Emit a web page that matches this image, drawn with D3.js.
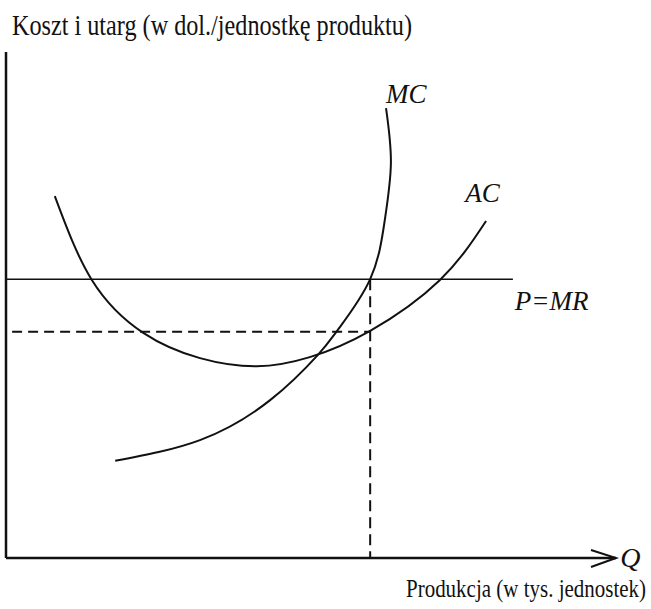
<!DOCTYPE html>
<html>
<head>
<meta charset="utf-8">
<script src="https://cdn.jsdelivr.net/npm/d3@7"></script>
<style>
  body { margin: 0; background: #fff; }
  text { font-family: "Liberation Serif", "Times New Roman", serif; fill: #111; }
</style>
</head>
<body>
<div id="chart"></div>
<script>
// curve points, in axis units (0..10 on both axes)
const acX = [0.80, 1.41, 2.25, 3.18, 4.11, 4.98, 5.97, 7.11, 7.87];
const acY = [7.15, 5.49, 4.45, 3.95, 3.79, 3.97, 4.49, 5.49, 6.66];
const mcX = [1.79, 3.18, 4.33, 5.11, 5.44, 5.97, 6.21, 6.31, 6.23];
const mcY = [1.92, 2.33, 3.12, 4.01, 4.51, 5.51, 6.68, 7.81, 8.89];
const priceLevel = 5.51;   // P = MR
const acAtQ = 4.47;        // AC at chosen output
const qStar = 5.97;        // output where P = MC
const priceEnd = 8.31;

const labels = [
  { text: "MC", x: 6.23, y: 8.99 },
  { text: "AC", x: 7.53, y: 7.04 },
  { text: "P=MR", x: 8.34, y: 4.90 },
  { text: "Q", x: 10.07, y: -0.18 }
];
const yTitle = "Koszt i utarg (w dol./jednostkę produktu)";
const xTitle = "Produkcja (w tys. jednostek)";

const width = 651, height = 609;
const svg = d3.select("#chart").append("svg").attr("width", width).attr("height", height);

const x = d3.scaleLinear().domain([0, 10]).range([6, 616]);
const y = d3.scaleLinear().domain([0, 10]).range([558, 52]);

const curve = d3.line().x(d => x(d[0])).y(d => y(d[1])).curve(d3.curveNatural);

// axes
svg.append("line").attr("x1", x(0)).attr("y1", y(10)).attr("x2", x(0)).attr("y2", y(0))
  .attr("stroke", "#111").attr("stroke-width", 2.5);
svg.append("line").attr("x1", x(0)).attr("y1", y(0)).attr("x2", x(10)).attr("y2", y(0))
  .attr("stroke", "#111").attr("stroke-width", 2.5);
svg.append("path")
  .attr("d", `M${x(10) - 25},${y(0) - 8}L${x(10)},${y(0)}L${x(10) - 25},${y(0) + 9}`)
  .attr("fill", "none").attr("stroke", "#111").attr("stroke-width", 2);

// price line
svg.append("line").attr("x1", x(0)).attr("y1", y(priceLevel)).attr("x2", x(priceEnd)).attr("y2", y(priceLevel))
  .attr("stroke", "#111").attr("stroke-width", 1.6);

// dashed guides
svg.append("line").attr("x1", x(0.1)).attr("y1", y(acAtQ)).attr("x2", x(qStar)).attr("y2", y(acAtQ))
  .attr("stroke", "#111").attr("stroke-width", 2).attr("stroke-dasharray", "10,6");
svg.append("line").attr("x1", x(qStar)).attr("y1", y(priceLevel)).attr("x2", x(qStar)).attr("y2", y(0))
  .attr("stroke", "#111").attr("stroke-width", 2).attr("stroke-dasharray", "11,6");

// cost curves
svg.append("path").datum(d3.zip(acX, acY)).attr("d", curve)
  .attr("fill", "none").attr("stroke", "#111").attr("stroke-width", 2);
svg.append("path").datum(d3.zip(mcX, mcY)).attr("d", curve)
  .attr("fill", "none").attr("stroke", "#111").attr("stroke-width", 2);

// curve labels
svg.selectAll(".lbl").data(labels).enter().append("text")
  .attr("class", "lbl")
  .attr("x", d => x(d.x)).attr("y", d => y(d.y))
  .attr("font-size", d => d.text === "Q" ? 28 : 27)
  .attr("font-style", "italic")
  .text(d => d.text);

// axis titles
svg.append("text").attr("x", 12).attr("y", 35).attr("font-size", 30)
  .attr("textLength", 400).attr("lengthAdjust", "spacingAndGlyphs").text(yTitle);
svg.append("text").attr("x", 646).attr("y", 597).attr("font-size", 25)
  .attr("text-anchor", "end")
  .attr("textLength", 240).attr("lengthAdjust", "spacingAndGlyphs").text(xTitle);
</script>
</body>
</html>
